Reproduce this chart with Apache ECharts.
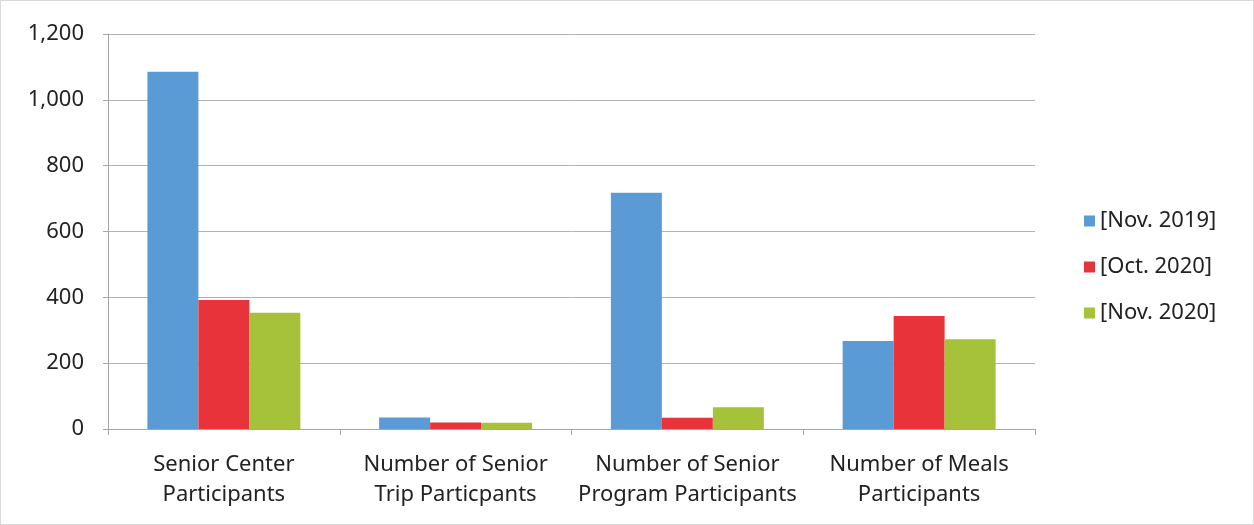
<!DOCTYPE html>
<html>
<head>
<meta charset="utf-8">
<script src="https://cdn.jsdelivr.net/npm/echarts@6/dist/echarts.min.js"></script>
<style>
  html, body { margin: 0; padding: 0; background: #fff; }
  #chart { width: 1254px; height: 525px; box-sizing: border-box; border: 1px solid #d9d9d9; }
</style>
</head>
<body>
<div id="chart"></div>
<script>
// categories and series
const categories = [
  'Senior Center\nParticipants',
  'Number of Senior\nTrip Particpants',
  'Number of Senior\nProgram Participants',
  'Number of Meals\nParticipants'
]
const seriesNames = ['[Nov. 2019]', '[Oct. 2020]', '[Nov. 2020]']
const nov2019 = [1085, 35, 718, 267]
const oct2020 = [392, 20, 34, 343]
const nov2020 = [353, 19, 66, 273]
const colors = ['#5b9bd5', '#e8333a', '#a5c23a']

const myChart = echarts.init(document.getElementById('chart'))
const fontFamily = 'Noto Sans'

const option = {
  animation: false,
  textStyle: { fontFamily: fontFamily },
  grid: {
    left: 107,
    top: 33,
    right: 218,
    bottom: 95
  },
  legend: {
    orient: 'vertical',
    left: 1078,
    top: 204,
    itemWidth: 11,
    itemHeight: 11,
    itemGap: 24,
    icon: 'rect',
    textStyle: { fontSize: 22, color: '#222', fontFamily: fontFamily },
    data: seriesNames
  },
  xAxis: {
    type: 'category',
    data: categories,
    axisLine: { lineStyle: { color: '#a6a6a6' } },
    axisTick: { show: true, length: 6, lineStyle: { color: '#a6a6a6' } },
    axisLabel: {
      color: '#222',
      fontSize: 22,
      lineHeight: 30,
      margin: 21,
      interval: 0
    }
  },
  yAxis: {
    type: 'value',
    min: 0,
    max: 1200,
    interval: 200,
    axisLine: { show: true, lineStyle: { color: '#a6a6a6' } },
    axisTick: { show: true, length: 5, lineStyle: { color: '#a6a6a6' } },
    splitLine: { lineStyle: { color: '#b3b3b3' } },
    axisLabel: {
      color: '#222',
      fontSize: 22,
      margin: 24,
      formatter: function (v) { return v.toLocaleString('en-US') }
    }
  },
  series: [
    {
      name: seriesNames[0],
      type: 'bar',
      color: colors[0],
      barGap: '0%',
      barCategoryGap: '34%',
      data: nov2019
    },
    {
      name: seriesNames[1],
      type: 'bar',
      color: colors[1],
      barGap: '0%',
      barCategoryGap: '34%',
      data: oct2020
    },
    {
      name: seriesNames[2],
      type: 'bar',
      color: colors[2],
      barGap: '0%',
      barCategoryGap: '34%',
      data: nov2020
    }
  ]
}
myChart.setOption(option)
</script>
</body>
</html>
